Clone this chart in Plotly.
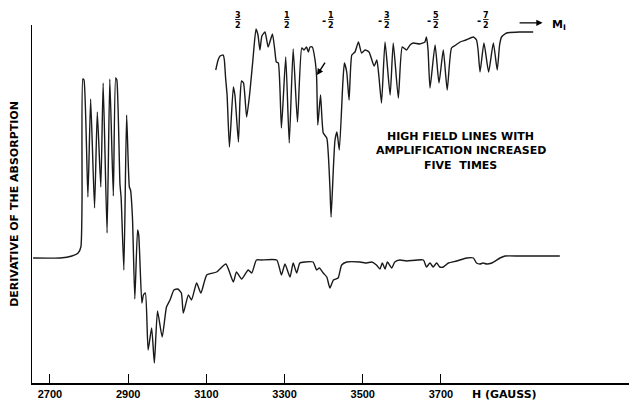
import plotly.graph_objects as go

# Main spectrum: magnetic field (gauss) and derivative signal (arbitrary units, baseline = 0)
main_field = [2657, 2726, 2756, 2772, 2779, 2782, 2784, 2787, 2797, 2804, 2814, 2821, 2830, 2836,
              2846, 2853, 2862, 2868, 2871, 2879, 2882, 2889, 2896, 2903, 2906, 2911, 2917, 2924,
              2927, 2935, 2939, 2944, 2951, 2960, 2967, 2975, 2987, 2998, 3007, 3017, 3027, 3036,
              3041, 3054, 3062, 3075, 3086, 3101, 3126, 3150, 3169, 3177, 3190, 3207, 3216, 3228,
              3240, 3280, 3292, 3301, 3314, 3322, 3331, 3339, 3352, 3373, 3382, 3389, 3399, 3408,
              3416, 3425, 3437, 3446, 3459, 3493, 3510, 3523, 3535, 3544, 3550, 3557, 3563, 3574,
              3582, 3595, 3612, 3655, 3663, 3672, 3680, 3689, 3697, 3706, 3719, 3740, 3766, 3783,
              3791, 3800, 3808, 3817, 3830, 3851, 3864, 3902, 4004]
main_signal = [0, 0, 2, 5, 11, 58, 179, 178, 61, 159, 50, 146, 71, 175,
               25, 179, 62, 180, 178, 74, 60, -12, 143, 71, 68, 40, -41, 28,
               23, -45, -37, -35, -92, -70, -105, -53, -79, -49, -42, -32, -31, -35,
               -55, -37, -42, -25, -35, -17, -14, -6, -24, -14, -21, -12, -15, -2,
               -2, -2, -17, -6, -19, -5, -15, -5, -4, -4, -12, -10, -15, -19,
               -30, -22, -20, -7, -4, -4, -5, -4, -7, -11, -5, -11, -4, -10,
               -4, -2, -3, -2, -9, -5, -9, -5, -9, -9, -5, -3, 0, 0,
               -5, -6, -5, -6, -5, 0, 2, 2, 2]

# High-field lines, amplification x5 (same field scale, vertically offset trace)
inset_field = [3124, 3130, 3135, 3143, 3146, 3149, 3153, 3159, 3169, 3173, 3182, 3186, 3190, 3195,
               3203, 3211, 3219, 3227, 3232, 3237, 3242, 3250, 3258, 3269, 3275, 3279, 3284, 3292,
               3303, 3312, 3322, 3333, 3344, 3350, 3356, 3361, 3365, 3371, 3378, 3382, 3385, 3392,
               3399, 3408, 3416, 3419, 3425, 3429, 3434, 3440, 3449, 3453, 3459, 3465, 3472, 3480,
               3489, 3497, 3506, 3516, 3529, 3536, 3541, 3548, 3557, 3570, 3578, 3591, 3601, 3612,
               3621, 3629, 3646, 3659, 3663, 3667, 3672, 3685, 3695, 3706, 3716, 3727, 3738, 3749,
               3764, 3783, 3791, 3795, 3800, 3810, 3822, 3834, 3844, 3850, 3855, 3868, 3902, 3936]
inset_signal = [188, 198, 202, 203, 198, 181, 163, 111, 171, 163, 116, 158, 177, 175,
                141, 165, 198, 229, 223, 208, 222, 226, 211, 224, 208, 196, 195, 130,
                201, 115, 209, 136, 210, 208, 211, 206, 211, 211, 198, 181, 133, 163,
                125, 120, 71, 41, 91, 118, 126, 108, 175, 195, 186, 158, 203, 206,
                216, 205, 208, 206, 192, 198, 183, 155, 216, 163, 215, 160, 211, 208,
                213, 215, 214, 216, 221, 208, 170, 213, 175, 208, 168, 210, 213, 216,
                218, 221, 218, 208, 186, 215, 186, 215, 188, 213, 221, 225, 226, 226]

# Nuclear spin quantum number labels (M_I) over the line groups
mi_nums = ["3", "1", "1", "3", "5", "7"]
mi_signs = ["", "", "-", "-", "-", "-"]
mi_field = [3181, 3306, 3419, 3563, 3688, 3815]

tick_vals = [2700, 2900, 3100, 3300, 3500, 3700]
tick_text = ["2700", "2900", "3100", "3300", "3500", "3700"]

note_lines = ["HIGH FIELD LINES WITH", "AMPLIFICATION INCREASED", "FIVE  TIMES"]

FONT = "Liberation Sans, Arial, sans-serif"
LETTER = "DejaVu Sans, Liberation Sans, sans-serif"
LINE = "#1a1a1a"

fig = go.Figure()
fig.add_trace(go.Scatter(x=main_field, y=main_signal, mode="lines",
                         line=dict(color=LINE, width=1.4, shape="spline", smoothing=0.5),
                         showlegend=False))
fig.add_trace(go.Scatter(x=inset_field, y=inset_signal, mode="lines",
                         line=dict(color=LINE, width=1.4, shape="spline", smoothing=0.5),
                         showlegend=False))

y_lo, y_hi = -125, 233

def ypaper(v):
    return (v - y_lo) / (y_hi - y_lo)

for num, sign, fx in zip(mi_nums, mi_signs, mi_field):
    fig.add_annotation(x=fx, y=1.012, xref="x", yref="paper", showarrow=False,
                       text="<b><u>" + num + "</u><br>2</b>",
                       font=dict(family=LETTER, size=8, color="black"),
                       xanchor="center", yanchor="middle")
    if sign:
        fig.add_annotation(x=fx, y=1.012, xref="x", yref="paper", showarrow=False, xshift=-7,
                           text="<b>-</b>", font=dict(family=LETTER, size=10, color="black"),
                           xanchor="center", yanchor="middle")

# arrow -> M_I
fig.add_annotation(x=3960, y=1.006, xref="x", yref="paper", ax=-26, ay=0,
                   showarrow=True, arrowhead=2, arrowsize=0.9,
                   arrowwidth=1.4, arrowcolor="black", text=" ")
fig.add_annotation(x=3980, y=1.0, xref="x", yref="paper", showarrow=False,
                   text="<b>M</b><sub><b>I</b></sub>", font=dict(family=LETTER, size=11, color="black"),
                   xanchor="left", yanchor="middle")

# arrow pointing at the shoulder in the -1/2 group
fig.add_annotation(x=3383, y=183, xref="x", yref="y", ax=11, ay=-17, showarrow=True,
                   arrowhead=2, arrowsize=0.9, arrowwidth=1.4, arrowcolor="black", text=" ")

for i, txt in enumerate(note_lines):
    fig.add_annotation(x=3751, y=ypaper(122 - 14.5 * i), xref="x", yref="paper", showarrow=False,
                       text="<b>" + txt + "</b>",
                       font=dict(family=LETTER, size=11, color="black"),
                       xanchor="center", yanchor="middle")

fig.add_annotation(x=3862, y=0, xref="x", yref="paper", yshift=-11, showarrow=False,
                   text="<b>H (GAUSS)</b>", font=dict(family=LETTER, size=11, color="black"),
                   xanchor="center", yanchor="middle")

fig.update_layout(
    width=629, height=413,
    margin=dict(l=32, r=0, t=25, b=30),
    paper_bgcolor="white", plot_bgcolor="white",
    xaxis=dict(range=[2654, 4181], tickvals=tick_vals, ticktext=tick_text,
               ticks="inside", ticklen=9, tickwidth=1, tickcolor="black",
               showline=True, linecolor="black", linewidth=1.5, showgrid=False, zeroline=False,
               tickfont=dict(family=FONT, size=11, color="black", weight="bold")),
    yaxis=dict(range=[y_lo, y_hi], showticklabels=False, ticks="", showline=True,
               linecolor="black", linewidth=1, showgrid=False, zeroline=False,
               title=dict(text="<b>DERIVATIVE OF THE ABSORPTION</b>", standoff=10,
                          font=dict(family=LETTER, size=11, color="black"))),
)

fig.write_html("out.html")
